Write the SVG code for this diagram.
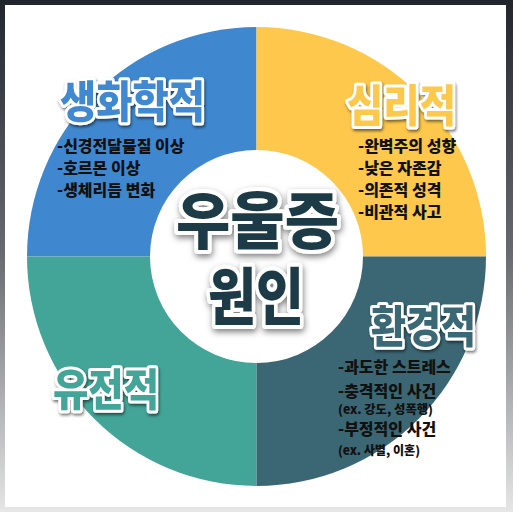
<svg xmlns="http://www.w3.org/2000/svg" width="513" height="512" viewBox="0 0 513 512">
<defs>
<linearGradient id="bg" x1="0" y1="0" x2="0" y2="1">
<stop offset="0" stop-color="#23252d"/>
<stop offset="0.5" stop-color="#6a6b70"/>
<stop offset="1" stop-color="#e6e6e6"/>
</linearGradient>
<filter id="sh" x="-20%" y="-20%" width="140%" height="150%">
<feDropShadow dx="1" dy="2" stdDeviation="1.5" flood-color="#000" flood-opacity="0.55"/>
</filter>
<filter id="sh2" x="-20%" y="-20%" width="140%" height="150%">
<feDropShadow dx="1" dy="3" stdDeviation="3" flood-color="#000" flood-opacity="0.5"/>
</filter>
</defs>
<style>
.ttl{font-family:"Noto Sans CJK KR","Noto Sans",sans-serif;font-weight:900;font-size:44px;stroke:#fff;stroke-width:6px;stroke-linejoin:round;paint-order:stroke fill;filter:url(#sh)}
.big{font-family:"Noto Sans CJK KR","Noto Sans",sans-serif;font-weight:900;font-size:62px;fill:#1f3b46;stroke:#fff;stroke-width:8px;stroke-linejoin:round;paint-order:stroke fill;filter:url(#sh2);text-anchor:middle}
.li{font-family:"Noto Sans CJK KR","Noto Sans",sans-serif;font-weight:900;font-size:16px;fill:#111}
.sm{font-family:"Noto Sans CJK KR","Noto Sans",sans-serif;font-weight:900;font-size:12.5px;fill:#111}
</style>
<rect x="0" y="0" width="513" height="512" fill="url(#bg)"/>
<rect x="5" y="5" width="501" height="502" fill="#fff"/>
<g id="bio">
<path d="M256.5 256.5 L27 256.5 A229.5 229.5 0 0 1 256.5 27 Z" fill="#3f88cf"/>
<text class="ttl" x="60" y="118" fill="#3f88cf" textLength="145" lengthAdjust="spacingAndGlyphs">생화학적</text>
<text class="li" x="57" y="152">-신경전달물질 이상</text>
<text class="li" x="57" y="174">-호르몬 이상</text>
<text class="li" x="57" y="196">-생체리듬 변화</text>
</g>
<g id="psy">
<path d="M256.5 256.5 L256.5 27 A229.5 229.5 0 0 1 486 256.5 Z" fill="#fdc84b"/>
<text class="ttl" x="347" y="122" fill="#fdc84b" textLength="109" lengthAdjust="spacingAndGlyphs">심리적</text>
<text class="li" x="358" y="152">-완벽주의 성향</text>
<text class="li" x="358" y="174">-낮은 자존감</text>
<text class="li" x="358" y="196">-의존적 성격</text>
<text class="li" x="358" y="218">-비관적 사고</text>
</g>
<g id="gen">
<path d="M256.5 256.5 L256.5 486 A229.5 229.5 0 0 1 27 256.5 Z" fill="#42a598"/>
<text class="ttl" x="53" y="406" fill="#42a598" textLength="106" lengthAdjust="spacingAndGlyphs">유전적</text>
</g>
<g id="env">
<path d="M256.5 256.5 L486 256.5 A229.5 229.5 0 0 1 256.5 486 Z" fill="#3b6774"/>
<text class="ttl" x="371" y="343" fill="#3b6774" textLength="105" lengthAdjust="spacingAndGlyphs">환경적</text>
<text class="li" x="338" y="373">-과도한 스트레스</text>
<text class="li" x="338" y="397">-충격적인 사건</text>
<text class="sm" x="338" y="414" textLength="95" lengthAdjust="spacingAndGlyphs">(ex. 강도, 성폭행)</text>
<text class="li" x="338" y="435">-부정적인 사건</text>
<text class="sm" x="338" y="455" textLength="82" lengthAdjust="spacingAndGlyphs">(ex. 사별, 이혼)</text>
</g>
<g id="center">
<circle cx="256.5" cy="256.5" r="106.5" fill="#fff"/>
<text class="big" x="257.5" y="244" textLength="163" lengthAdjust="spacingAndGlyphs">우울증</text>
<text class="big" x="256" y="320" textLength="96" lengthAdjust="spacingAndGlyphs">원인</text>
</g>
</svg>
